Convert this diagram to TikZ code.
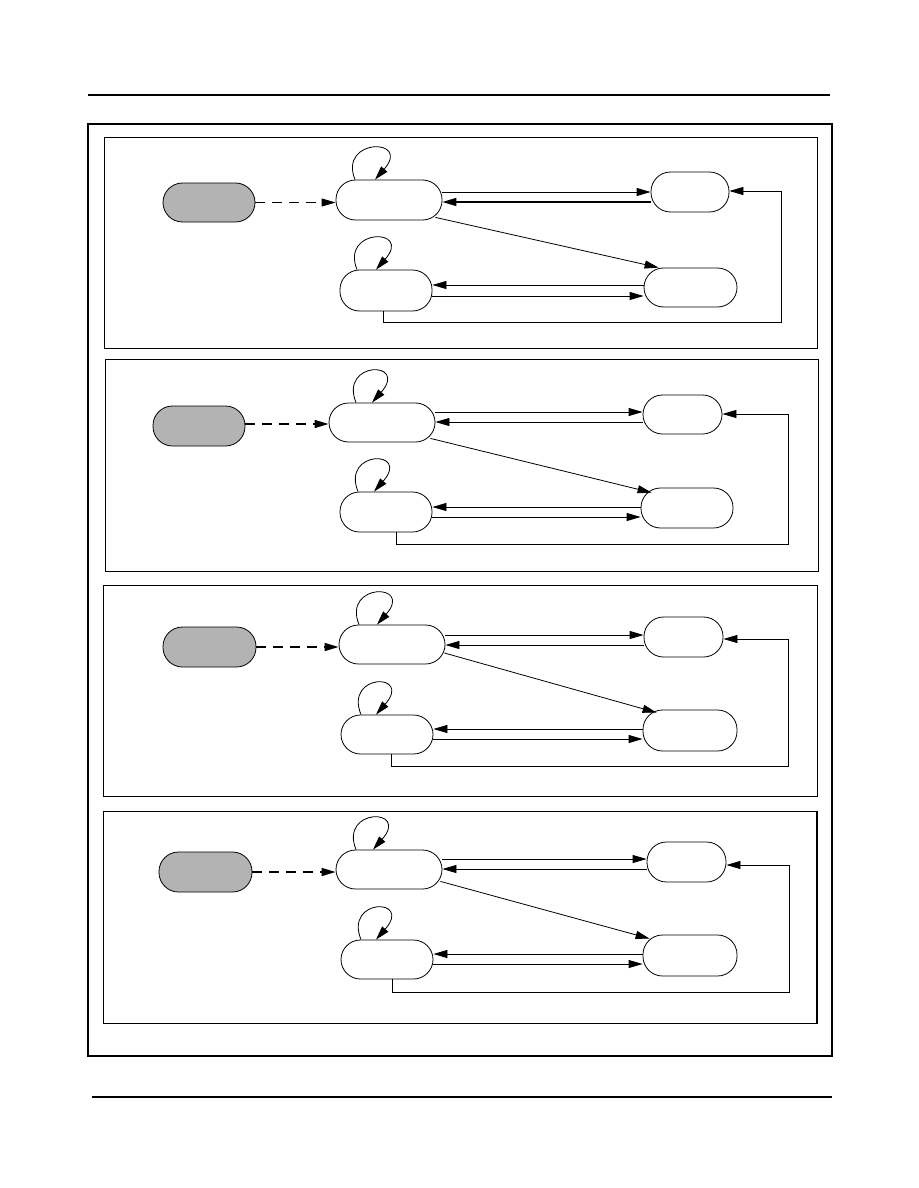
\documentclass[tikz,border=0pt]{standalone}
\usetikzlibrary{arrows.meta,calc}
\definecolor{gfill}{RGB}{179,179,179}
\tikzset{
  st/.style={draw, line width=0.8pt, rectangle, rounded corners=19.5pt, inner sep=0pt, fill=white},
  init/.style={st, fill=gfill},
  arr/.style={line width=0.8pt, -{Triangle[length=14pt,width=8pt]}},
  dsh/.style={arr, dash pattern=on 10pt off 7pt},
  frame/.style={line width=0.8pt},
}
\newcommand{\selfloop}[3]{\draw[arr] ($(#1.north)+(#2,0)$) .. controls +(-17,-42) and +(37,-42) .. ($(#1.north)+(#3,0)$);}
\begin{document}
\begin{tikzpicture}[x=1pt,y=-1pt]
\useasboundingbox (0,0) rectangle (918,1188);
% page rules and outer frame
\draw[line width=2pt] (88,95) -- (830,95);
\draw[line width=1.2pt] (92,1097) -- (832,1097);
\draw[line width=1.4pt] (88,124) rectangle (832,1056);
% panel frames
\draw[frame] (104,137) rectangle (817,348);
\draw[frame] (105,359) rectangle (818,571);
\draw[frame] (103,585) rectangle (817,796);
\draw[frame] (103,811) rectangle (817,1023);
\draw[line width=1.6pt] (817,811) -- (817,1023);

% ---------- panel 1 ----------
\node[init, minimum width=92pt, minimum height=39pt] (G1) at (209,202.5) {};
\node[st, minimum width=106pt, minimum height=40pt] (A1) at (389,200) {};
\node[st, minimum width=92pt, minimum height=41pt] (B1) at (386,290.5) {};
\node[st, minimum width=78pt, minimum height=40pt] (C1) at (690,192) {};
\node[st, minimum width=93pt, minimum height=39pt] (D1) at (690.5,287.5) {};
\coordinate (r1) at (781,322);
\draw[dsh] (G1.east) -- ($(A1.west)+(0,2.5)$);
\selfloop{A1}{-34}{-14}
\selfloop{B1}{-29}{-10}
\draw[arr] ($(A1.east)+(0,-8)$) -- (C1.west);
\draw[arr, line width=1.6pt] ($(C1.west)+(0,10)$) -- ($(A1.east)+(0,2)$);
\draw[arr] ($(D1.west)+(0,-2.5)$) -- ($(B1.east)+(0,-5.5)$);
\draw[arr] ($(B1.east)+(0,5.5)$) -- ($(D1.west)+(0,8.5)$);
\draw[arr] ($(A1.south east)+(-7,-3)$) -- ($(D1.north west)+(15,0)$);
\draw[arr] ($(B1.south)+(-3,0)$) |- (r1) |- ($(C1.east)+(0,-1)$);

% ---------- panel 2 ----------
\node[init, minimum width=92pt, minimum height=40pt] (G2) at (199,426) {};
\node[st, minimum width=106pt, minimum height=39pt] (A2) at (382,422.5) {};
\node[st, minimum width=92pt, minimum height=40pt] (B2) at (386,512) {};
\node[st, minimum width=79pt, minimum height=39pt] (C2) at (682.5,414.5) {};
\node[st, minimum width=92pt, minimum height=40pt] (D2) at (687,508) {};
\coordinate (r2) at (788,544);
\draw[dsh, line width=1.6pt] ($(G2.east)+(0,-2)$) -- ($(A2.west)+(0,1.5)$);
\selfloop{A2}{-26}{-10}
\selfloop{B2}{-28}{-12}
\draw[arr] ($(A2.east)+(0,-10.5)$) -- ($(C2.west)+(0,-2.5)$);
\draw[arr] ($(C2.west)+(0,7.5)$) -- ($(A2.east)+(0,-0.5)$);
\draw[arr] ($(D2.west)+(0,-1)$) -- ($(B2.east)+(0,-5)$);
\draw[arr] ($(B2.east)+(0,5)$) -- ($(D2.west)+(0,9)$);
\draw[arr] ($(A2.south east)+(-5,-4)$) -- ($(D2.north west)+(11,5)$);
\draw[arr] ($(B2.south)+(10,0)$) |- (r2) |- ($(C2.east)+(0,-0.5)$);

% ---------- panel 3 ----------
\node[init, minimum width=93pt, minimum height=40pt] (G3) at (209.5,647) {};
\node[st, minimum width=106pt, minimum height=39pt] (A3) at (392,644.5) {};
\node[st, minimum width=92pt, minimum height=39pt] (B3) at (387,734.5) {};
\node[st, minimum width=79pt, minimum height=40pt] (C3) at (683.5,637) {};
\node[st, minimum width=94pt, minimum height=41pt] (D3) at (690,730.5) {};
\coordinate (r3) at (788,766);
\draw[dsh, line width=1.6pt] (G3.east) -- ($(A3.west)+(0,2.5)$);
\selfloop{A3}{-33}{-15}
\selfloop{B3}{-26}{-11}
\draw[arr] ($(A3.east)+(0,-9.5)$) -- ($(C3.west)+(0,-2)$);
\draw[arr] ($(C3.west)+(0,8)$) -- ($(A3.east)+(0,0.5)$);
\draw[arr] ($(D3.west)+(0,-1.5)$) -- ($(B3.east)+(0,-5.5)$);
\draw[arr] ($(B3.east)+(0,4.5)$) -- ($(D3.west)+(0,8.5)$);
\draw[arr] ($(A3.east)+(-1,8.5)$) -- ($(D3.north west)+(14,3)$);
\draw[arr] ($(B3.south)+(4,0)$) |- (r3) |- ($(C3.east)+(0,2)$);

% ---------- panel 4 ----------
\node[init, minimum width=93pt, minimum height=40pt] (G4) at (205.5,872) {};
\node[st, minimum width=106pt, minimum height=39pt] (A4) at (389,869.5) {};
\node[st, minimum width=92pt, minimum height=39pt] (B4) at (387,959.5) {};
\node[st, minimum width=79pt, minimum height=40pt] (C4) at (686.5,862) {};
\node[st, minimum width=94pt, minimum height=41pt] (D4) at (690,955.5) {};
\coordinate (r4) at (789,992);
\draw[dsh, line width=1.6pt] (G4.east) -- ($(A4.west)+(0,2.5)$);
\selfloop{A4}{-33}{-16}
\selfloop{B4}{-26}{-11}
\draw[arr] ($(A4.east)+(0,-10.5)$) -- ($(C4.west)+(0,-3)$);
\draw[arr] ($(C4.west)+(0,7)$) -- ($(A4.east)+(0,-0.5)$);
\draw[arr] ($(D4.west)+(0,-1.5)$) -- ($(B4.east)+(0,-5.5)$);
\draw[arr] ($(B4.east)+(0,4.5)$) -- ($(D4.west)+(0,8.5)$);
\draw[arr] ($(A4.south east)+(-2,-8)$) -- ($(D4.north west)+(7,4)$);
\draw[arr] ($(B4.south)+(5,0)$) |- (r4) |- ($(C4.east)+(0,3)$);
\end{tikzpicture}
\end{document}
